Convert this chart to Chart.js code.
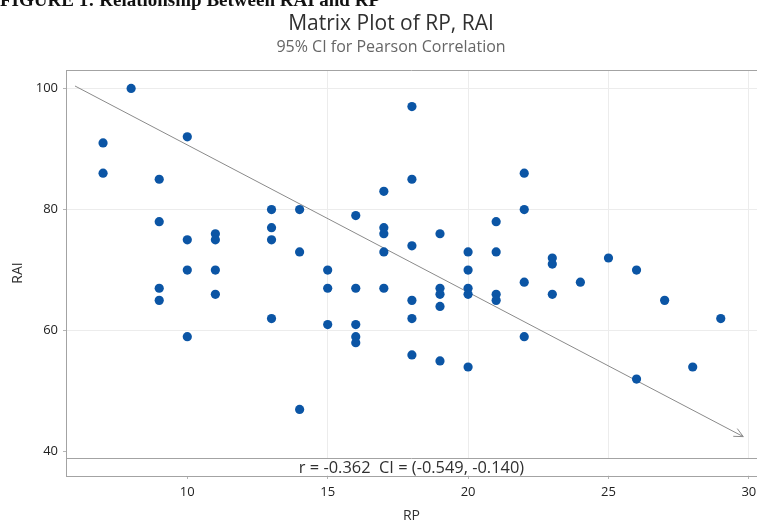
<!DOCTYPE html>
<html>
<head>
<meta charset="utf-8">
<script src="https://cdn.jsdelivr.net/npm/chart.js@4.4.1/dist/chart.umd.min.js"></script>
<style>
  html, body { margin: 0; padding: 0; background: #fff; width: 757px; height: 521px; overflow: hidden; }
  #wrap { position: relative; width: 757px; height: 521px; overflow: hidden; }
  #fig { position: absolute; left: 0; top: -10px; font: bold 19px "Liberation Serif", serif; line-height: 20px; color: #111; white-space: nowrap; }
  #title { position: absolute; left: 0; width: 782px; top: 9px; text-align: center; font: 21px "Open Sans", sans-serif; line-height: 26px; color: #303030; }
  #subtitle { position: absolute; left: 0; width: 782px; top: 36px; text-align: center; font: 16px "Open Sans", sans-serif; line-height: 20px; color: #666; }
  canvas { position: absolute; left: 0; top: 0; }
</style>
</head>
<body>
<div id="wrap">
  <canvas id="chart" width="757" height="530"></canvas>
  <div id="fig">FIGURE 1: Relationship Between RAI and RP</div>
  <div id="title">Matrix Plot of RP, RAI</div>
  <div id="subtitle">95% CI for Pearson Correlation</div>
</div>
<script>
// RP (x) and RAI (y), one entry per respondent
const rp  = [7, 7, 8, 9, 9, 9, 9, 10, 10, 10, 10, 11, 11, 11, 11,
             13, 13, 13, 13, 14, 14, 14, 15, 15, 15, 16, 16, 16, 16, 16,
             17, 17, 17, 17, 17, 18, 18, 18, 18, 18, 18, 19, 19, 19, 19, 19,
             20, 20, 20, 20, 20, 21, 21, 21, 21, 22, 22, 22, 22,
             23, 23, 23, 24, 25, 26, 26, 27, 28, 29];
const rai = [91, 86, 100, 85, 78, 67, 65, 92, 75, 70, 59, 76, 75, 70, 66,
             80, 77, 75, 62, 80, 73, 47, 70, 67, 61, 79, 67, 61, 59, 58,
             83, 77, 76, 73, 67, 97, 85, 74, 65, 62, 56, 76, 67, 66, 64, 55,
             73, 70, 67, 66, 54, 78, 73, 66, 65, 86, 80, 68, 59,
             72, 71, 66, 68, 72, 70, 52, 65, 54, 62];

// arrow drawn across the panel
const arrowX = [6, 29.8];
const arrowY = [100.4, 42.5];

const xTicks = [10, 15, 20, 25, 30];
const yTicks = [40, 60, 80, 100];
const corrText = 'r = -0.362  CI = (-0.549, -0.140)';
const stripTop = 39.0;   // RAI value where the correlation strip begins

const blue = '#0b55a5';
const frameColor = '#a3a3a3';
const gridColor = '#ececec';

Chart.defaults.font.family = '"Open Sans", sans-serif';

const points = rp.map((x, i) => ({ x, y: rai[i] }));
const arrow = arrowX.map((x, i) => ({ x, y: arrowY[i] }));

const frame = {
  id: 'frame',
  beforeDatasetsDraw(chart) {
    const { ctx, chartArea: a, scales: { y } } = chart;
    const top = Math.round(y.getPixelForValue(stripTop)) + 0.5;
    ctx.save();
    ctx.fillStyle = '#fff';
    ctx.fillRect(a.left + 1, top, a.right - a.left, a.bottom - top - 1);
    ctx.strokeStyle = frameColor;
    ctx.lineWidth = 1;
    ctx.beginPath();
    ctx.moveTo(a.left, top); ctx.lineTo(a.right, top);
    ctx.moveTo(a.left, Math.round(a.top) + 0.5); ctx.lineTo(a.right, Math.round(a.top) + 0.5);
    ctx.stroke();
    ctx.fillStyle = '#303030';
    ctx.font = '16.4px "Open Sans"';
    ctx.textAlign = 'center';
    ctx.textBaseline = 'middle';
    ctx.fillText(corrText, (a.left + a.right) / 2, (top + a.bottom) / 2 + 1);
    ctx.restore();
  },
  afterDatasetsDraw(chart) {
    const pts = chart.getDatasetMeta(1).data;
    const p0 = pts[0], p1 = pts[1];
    const ang = Math.atan2(p1.y - p0.y, p1.x - p0.x);
    const ctx = chart.ctx;
    ctx.save();
    ctx.strokeStyle = '#8a8a8a';
    ctx.lineWidth = 1;
    ctx.beginPath();
    [0.45, -0.45].forEach(d => {
      ctx.moveTo(p1.x, p1.y);
      ctx.lineTo(p1.x - 10 * Math.cos(ang + d), p1.y - 10 * Math.sin(ang + d));
    });
    ctx.stroke();
    ctx.restore();
  }
};

new Chart(document.getElementById('chart'), {
  type: 'scatter',
  data: {
    datasets: [
      { data: points, backgroundColor: blue, borderColor: blue, borderWidth: 0, pointRadius: 4.6, pointHoverRadius: 4.6 },
      { type: 'line', data: arrow, borderColor: '#8a8a8a', borderWidth: 1, pointRadius: 0, fill: false }
    ]
  },
  options: {
    responsive: false,
    animation: false,
    events: [],
    layout: { autoPadding: false, padding: { top: 70, left: 0, right: 0, bottom: 0 } },
    plugins: { legend: { display: false }, tooltip: { enabled: false } },
    scales: {
      x: {
        type: 'linear', min: 5.68, max: 30.29,
        afterBuildTicks: s => { s.ticks = xTicks.map(v => ({ value: v })); },
        afterFit: s => { s.height = 54; s.paddingLeft = 0; s.paddingRight = 0; },
        grid: { color: c => (c.tick && c.tick.value === 10) ? 'rgba(0,0,0,0)' : gridColor, tickLength: 3, tickColor: '#b5b5b5' },
        border: { color: frameColor, width: 1 },
        ticks: { color: '#222', font: { size: 13 }, padding: 5, maxRotation: 0 },
        title: { display: true, text: 'RP', color: '#303030', font: { size: 14 }, padding: { top: 0, bottom: 5.6 } }
      },
      y: {
        min: 36, max: 103.04,
        afterBuildTicks: s => { s.ticks = yTicks.map(v => ({ value: v })); },
        afterFit: s => { s.width = 66; s.paddingTop = 0; s.paddingBottom = 0; },
        grid: { color: c => (c.tick && c.tick.value === 40) ? 'rgba(0,0,0,0)' : gridColor, tickLength: 3, tickColor: '#b5b5b5' },
        border: { color: frameColor, width: 1 },
        ticks: { color: '#222', font: { size: 13 }, padding: 5 },
        title: { display: true, text: 'RAI', color: '#303030', font: { size: 14 }, padding: { top: 9.6, bottom: 0 } }
      }
    }
  },
  plugins: [frame]
});
</script>
</body>
</html>
